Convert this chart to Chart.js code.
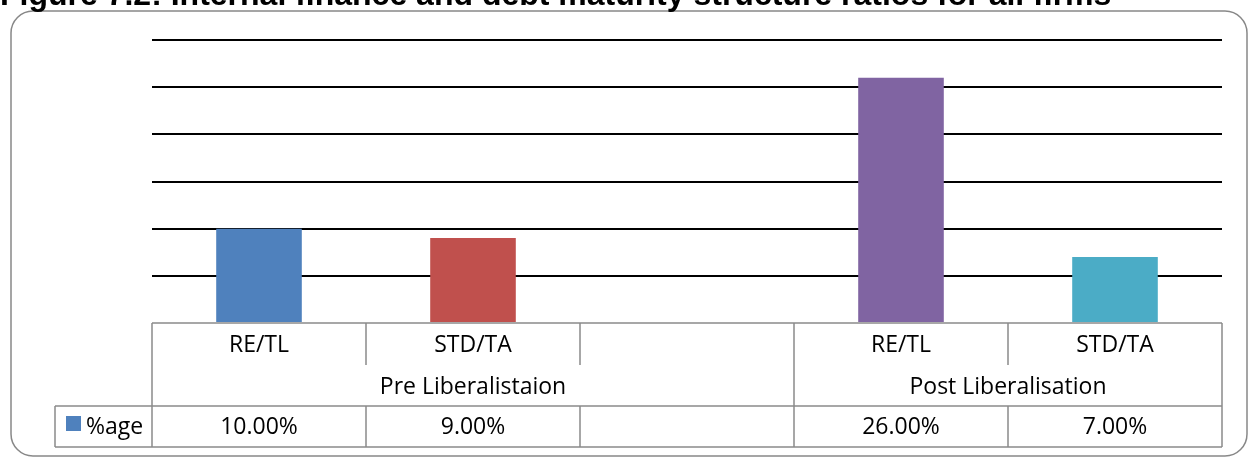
<!DOCTYPE html>
<html>
<head>
<meta charset="utf-8">
<script src="https://cdn.jsdelivr.net/npm/chart.js@4/dist/chart.umd.min.js"></script>
<style>
  body { margin: 0; background: #fff; }
  #wrap { width: 1248px; height: 457px; position: relative; }
</style>
</head>
<body>
<div id="wrap"><canvas id="myChart"></canvas></div>
<script>
var titleText = 'Figure 7.2: Internal finance and debt maturity structure ratios for all firms';
var categories = ['RE/TL', 'STD/TA', '', 'RE/TL', 'STD/TA'];
var values = [10, 9, null, 26, 7];
var groups = ['Pre Liberalistaion', 'Post Liberalisation'];
var groupSpans = [3, 2];
var seriesName = '%age';
var barColors = ['#4F81BD', '#C0504D', '#FFFFFF', '#8064A2', '#4BACC6'];

var tableFont = '23px "Open Sans"';
var lineColor = '#8a8a8a';

// 표 + 테두리 그리는 플러그인
var tablePlugin = {
  id: 'dataTable',
  beforeDraw: function (chart) {
    var c = chart.ctx;
    c.save();
    c.fillStyle = '#fff';
    c.fillRect(0, 0, chart.width, chart.height);
    // rounded frame
    c.strokeStyle = '#888';
    c.lineWidth = 1.5;
    c.beginPath();
    c.roundRect(11, 11, 1236, 445, 22);
    c.stroke();
    // title (cut off at top like the source)
    c.fillStyle = '#000';
    c.font = 'bold 32px "Liberation Sans"';
    c.textBaseline = 'alphabetic';
    c.textAlign = 'left';
    c.fillText(titleText, 0, 5);
    c.restore();
  },
  afterDraw: function (chart) {
    var c = chart.ctx;
    var x = chart.scales.x;
    var area = chart.chartArea;
    var n = categories.length;
    var colW = (area.right - area.left) / n;
    var top = area.bottom;
    var row1 = top + 42, row2 = top + 83, row3 = top + 124;
    var legLeft = 55;

    c.save();
    c.strokeStyle = lineColor;
    c.lineWidth = 1.5;
    function line(x1, y1, x2, y2) {
      c.beginPath(); c.moveTo(x1, y1); c.lineTo(x2, y2); c.stroke();
    }
    line(area.left, top, area.right, top);
    line(legLeft, row2, area.right, row2);
    line(legLeft, row3, area.right, row3);
    line(legLeft, row2, legLeft, row3);

    // group boundaries run full height, inner dividers only in row 1 and data row
    var bounds = [0];
    var acc = 0;
    groupSpans.forEach(function (s) { acc += s; bounds.push(acc); });
    for (var i = 0; i <= n; i++) {
      var px = area.left + i * colW;
      if (bounds.indexOf(i) >= 0) {
        line(px, top, px, row3);
      } else {
        line(px, top, px, row1);
        line(px, row2, px, row3);
      }
    }

    c.fillStyle = '#000';
    c.font = tableFont;
    c.textAlign = 'center';
    c.textBaseline = 'middle';
    for (var j = 0; j < n; j++) {
      var cx = x.getPixelForValue(j);
      c.fillText(categories[j], cx, top + 22);
      c.fillText(values[j] == null ? '' : values[j].toFixed(2) + '%', cx, top + 104);
    }
    var start = 0;
    groups.forEach(function (g, k) {
      var l = area.left + start * colW;
      var r = area.left + (start + groupSpans[k]) * colW;
      c.fillText(g, (l + r) / 2, top + 64);
      start += groupSpans[k];
    });

    // legend key
    c.fillStyle = barColors[0];
    c.fillRect(66, row2 + 10, 15, 15);
    c.fillStyle = '#000';
    c.textAlign = 'left';
    c.fillText(seriesName, 86, top + 104);
    c.restore();
  }
};

var ctx = document.getElementById('myChart').getContext('2d');
var myChart = new Chart(ctx, {
  type: 'bar',
  data: {
    labels: categories,
    datasets: [{
      label: seriesName,
      data: values,
      backgroundColor: barColors,
      barPercentage: 0.4,
      categoryPercentage: 1.0
    }]
  },
  plugins: [tablePlugin],
  options: {
    responsive: true,
    maintainAspectRatio: false,
    animation: false,
    layout: { padding: { left: 152, right: 26, top: 40, bottom: 134 } },
    plugins: {
      legend: { display: false },
      tooltip: { enabled: false }
    },
    scales: {
      x: {
        grid: { display: false, drawTicks: false },
        border: { display: false },
        ticks: { display: false }
      },
      y: {
        min: 0,
        max: 30,
        ticks: { display: false, stepSize: 5 },
        border: { display: false },
        grid: {
          drawTicks: false,
          lineWidth: 2,
          color: function (c) { return c.tick && c.tick.value === 0 ? 'rgba(0,0,0,0)' : '#000'; }
        }
      }
    }
  }
});
</script>
</body>
</html>
